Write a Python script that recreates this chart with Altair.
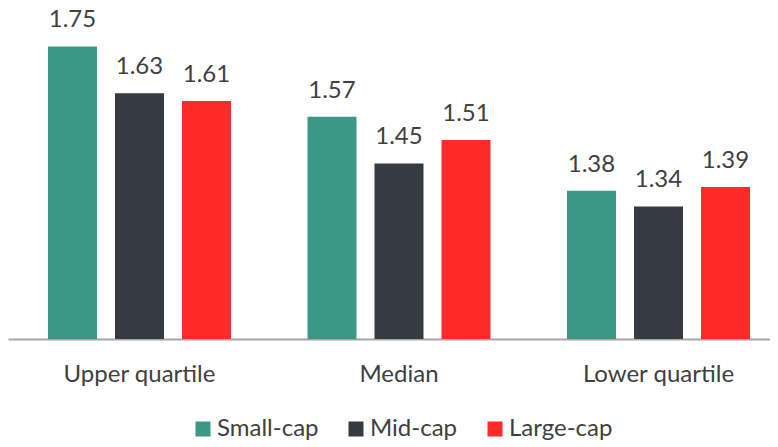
import altair as alt
import pandas as pd

categories = ["Upper quartile", "Median", "Lower quartile"]
series = ["Small-cap", "Mid-cap", "Large-cap"]
small_cap = [1.75, 1.57, 1.38]
mid_cap = [1.63, 1.45, 1.34]
large_cap = [1.61, 1.51, 1.39]
colors = ["#3A9884", "#363A42", "#FF2A2A"]

rows = []
for i, c in enumerate(categories):
    for s, vals in zip(series, [small_cap, mid_cap, large_cap]):
        rows.append({"category": c, "series": s, "value": vals[i]})
df = pd.DataFrame(rows)

FONT = "Lato"
TXT = "#404040"

x = alt.X(
    "category:N",
    sort=categories,
    scale=alt.Scale(paddingInner=0.2254, paddingOuter=0.0809, align=0.738),
    axis=alt.Axis(
        title=None, labelAngle=0, ticks=False, domainColor="#a6a6a6", domainWidth=2,
        labelFont=FONT, labelFontSize=24, labelColor=TXT, labelPadding=23,
    ),
)
xo = alt.XOffset("series:N", sort=series,
                 scale=alt.Scale(paddingInner=0.2687, paddingOuter=0.1343))
y = alt.Y("value:Q", scale=alt.Scale(domain=[1.0, 1.8333], zero=False, nice=False), axis=None)

base = alt.Chart(df).encode(x=x, xOffset=xo, y=y)

bars = base.mark_bar().encode(
    y2=alt.datum(1.0),
    color=alt.Color(
        "series:N", sort=series,
        scale=alt.Scale(domain=series, range=colors),
        legend=alt.Legend(
            orient="none", legendX=183, legendY=403, direction="horizontal", title=None,
            symbolType="square", symbolSize=225, symbolStrokeWidth=0,
            labelFont=FONT, labelFontSize=24, labelColor=TXT, labelOffset=2,
            columnPadding=25,
        ),
    ),
)

text = base.mark_text(baseline="alphabetic", dy=-19, font=FONT, fontSize=24, color=TXT).encode(
    text=alt.Text("value:Q", format=".2f")
)

chart = alt.layer(bars, text).properties(
    width=762, height=325,
    autosize=alt.AutoSizeParams(type="none"),
    padding={"left": 0, "top": 6, "right": 0, "bottom": 106},
).configure_view(strokeWidth=0)

chart.save("out.html", embed_options={"renderer": "svg", "actions": False})
